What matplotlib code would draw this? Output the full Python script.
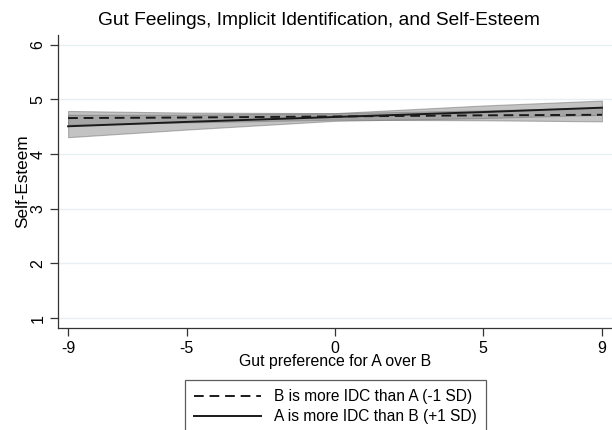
import matplotlib
matplotlib.use('Agg')
import matplotlib.pyplot as plt

plt.rcParams['font.family'] = ['Liberation Sans', 'DejaVu Sans']

# Gut preference values (x)
gut = [-9, -5, 0, 5, 9]

# B is more IDC than A (-1 SD)
b_fit = [4.66, 4.67, 4.69, 4.71, 4.72]
b_lo = [4.54, 4.58, 4.63, 4.62, 4.60]
b_hi = [4.79, 4.76, 4.75, 4.80, 4.85]

# A is more IDC than B (+1 SD)
a_fit = [4.51, 4.59, 4.68, 4.77, 4.85]
a_lo = [4.31, 4.45, 4.61, 4.66, 4.72]
a_hi = [4.72, 4.72, 4.75, 4.89, 4.98]

xticks = [-9, -5, 0, 5, 9]
yticks = [1, 2, 3, 4, 5, 6]

label_b = 'B is more IDC than A (-1 SD)'
label_a = 'A is more IDC than B (+1 SD)'

fig = plt.figure(figsize=(6.12, 4.30), dpi=100)
ax = fig.add_axes([0.0948, 0.237, 0.9052, 0.6816])

# CI bands
ax.fill_between(gut, b_lo, b_hi, facecolor='#888888', alpha=0.5,
                edgecolor='#707070', linewidth=0.8)
ax.fill_between(gut, a_lo, a_hi, facecolor='#888888', alpha=0.5,
                edgecolor='#707070', linewidth=0.8)

# fitted lines
ax.plot(gut, b_fit, color='#1a1a1a', linestyle=(0, (5, 3)), linewidth=1.4, label=label_b)
ax.plot(gut, a_fit, color='#1a1a1a', linestyle='-', linewidth=1.4, label=label_a)

ax.set_xlim(-9.34, 9.34)
ax.set_ylim(0.817, 6.18)
ax.set_xticks(xticks)
ax.set_yticks(yticks)
ax.set_xticklabels([str(v) for v in xticks], fontsize=11.5)
ax.set_yticklabels([str(v) for v in yticks], fontsize=11.5, rotation=90, va='center')
ax.tick_params(direction='out', length=6, width=0.9, color='#333333', pad=3)

ax.grid(axis='y', color='#e6eff1', linewidth=1.0)
ax.set_axisbelow(True)
for s in ['top', 'right']:
    ax.spines[s].set_visible(False)
for s in ['left', 'bottom']:
    ax.spines[s].set_color('#333333')
    ax.spines[s].set_linewidth(0.9)

ax.set_xlabel('Gut preference for A over B', fontsize=11.4, labelpad=-1)
ax.set_ylabel('Self-Esteem', fontsize=12.3, labelpad=0)

fig.text(0.521, 0.952, 'Gut Feelings, Implicit Identification, and Self-Esteem',
         fontsize=13.8, ha='center', va='center')

leg = fig.legend(loc='upper center', bbox_to_anchor=(0.548, 1 - 380 / 430),
                 borderaxespad=0, fontsize=11.2, frameon=True, fancybox=False,
                 handlelength=4.3, handletextpad=0.8, borderpad=0.6, labelspacing=0.3)
leg.get_frame().set_edgecolor('#333333')
leg.get_frame().set_linewidth(0.9)

fig.savefig('out.png', dpi=100)
